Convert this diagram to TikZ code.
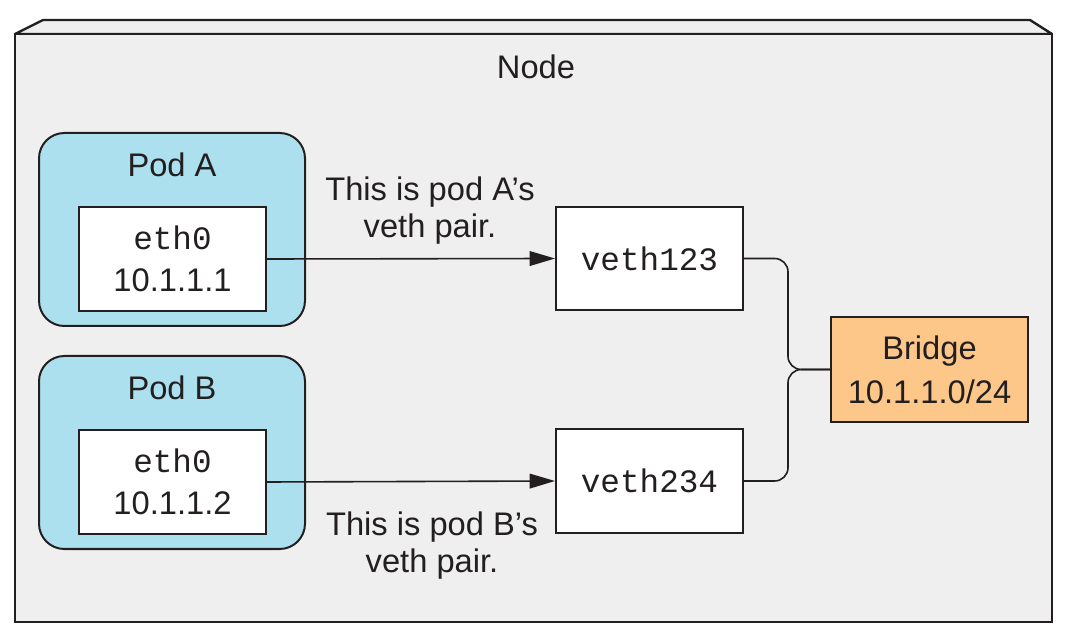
\documentclass[tikz,border=0pt]{standalone}
\usepackage{fontspec}
\setmainfont{Liberation Sans}
\setmonofont{Liberation Mono}
\usetikzlibrary{shapes, arrows.meta}

\definecolor{nodegray}{RGB}{239,239,239}
\definecolor{podblue}{RGB}{172,224,238}
\definecolor{bridgeorange}{RGB}{253,199,138}
\definecolor{linegray}{RGB}{35,31,32}

\begin{document}
\begin{tikzpicture}[x=0.75pt, y=-0.75pt,
  pod/.style={rectangle, rounded corners=19pt, draw=linegray, line width=1.5pt, fill=podblue, minimum width=199.5pt, minimum height=144.75pt, inner sep=0pt},
  iface/.style={rectangle, draw=linegray, line width=1.5pt, fill=white, minimum width=140.25pt, minimum height=77.5pt, inner sep=0pt, align=center, text=linegray, font=\fontsize{24.5}{31.5}\selectfont},
  tagtext/.style={align=center, text=linegray, font=\fontsize{24.5}{28}\selectfont},
  link/.style={draw=linegray, line width=1.2pt}]
\useasboundingbox (0,0) rectangle (1068,641);
% the node, drawn as a box
\draw[line width=1.8pt, fill=nodegray, draw=linegray, line join=round] (15,34) -- (43,20) -- (1030,20) -- (1052,34) -- cycle;
\draw[line width=1.8pt, fill=nodegray, draw=linegray] (15,34) rectangle (1052,622);
\node[tagtext] (nodename) at (536,67) {Node};
% pods
\node[pod] (podA) at (172,229.5) {};
\node[pod] (podB) at (172,452.5) {};
\node[tagtext] (podAname) at (172,165) {Pod A};
\node[tagtext] (podBname) at (172,388) {Pod B};
\node[iface] (ethA) at (172.5,259) {{\ttfamily eth0}\\10.1.1.1};
\node[iface] (ethB) at (172.5,482) {{\ttfamily eth0}\\10.1.1.2};
% veth ends and bridge
\node[iface] (vethA) at (649.5,258.5) {\texttt{veth123}};
\node[iface] (vethB) at (649.5,481) {\texttt{veth234}};
\node[iface, fill=bridgeorange, minimum width=147.75pt, minimum height=78.75pt, font=\fontsize{24.5}{33}\selectfont] (bridge) at (929.5,369.5) {Bridge\\10.1.1.0/24};
\node[tagtext] (noteA) at (430,210.5) {This is pod A’s\\veth pair.};
\node[tagtext] (noteB) at (432,545.5) {This is pod B’s\\veth pair.};
\coordinate (join) at (788,369.5);
\draw[link, -{Triangle[length=19pt,width=11pt]}] (ethA.east) -- (vethA.west);
\draw[link, -{Triangle[length=19pt,width=11pt]}] (ethB.east) -- (vethB.west);
\draw[link, rounded corners=10pt] (vethA.east) -| (join) -- (bridge.west);
\draw[link, rounded corners=10pt] (vethB.east) -| (join) -- (bridge.west);
\end{tikzpicture}
\end{document}
